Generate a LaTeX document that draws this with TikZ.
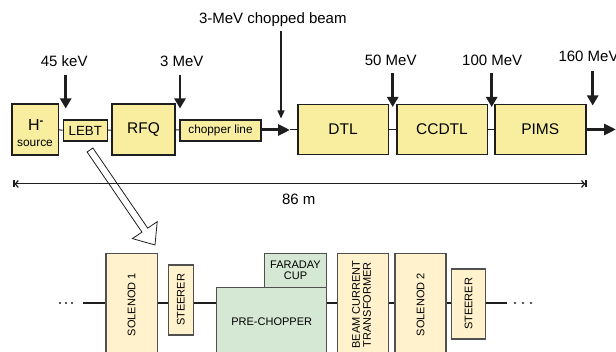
\documentclass[tikz,border=0pt]{standalone}
\usepackage{fontspec}
\setmainfont{Liberation Sans}
\usepackage{graphicx}
\usetikzlibrary{arrows.meta}
\definecolor{topfill}{RGB}{249,238,160}
\definecolor{solfill}{RGB}{255,242,204}
\definecolor{grnfill}{RGB}{213,232,212}
\definecolor{edge}{RGB}{30,30,30}
\definecolor{botedge}{RGB}{80,80,80}
\begin{document}
\begin{tikzpicture}[x=1pt,y=-1pt,
  topbox/.style={draw=edge, line width=1.6pt, fill=topfill, inner sep=0pt, anchor=center},
  bigfont/.style={font=\fontsize{15.5}{18}\selectfont},
  lblfont/.style={font=\fontsize{15}{18}\selectfont},
  botbox/.style={draw=botedge, line width=1.3pt, inner sep=0pt, anchor=center, font=\fontsize{11}{13}\selectfont},
  solbox/.style={botbox, fill=solfill},
  grnbox/.style={botbox, fill=grnfill},
  connector/.style={draw=edge, line width=1pt},
  energyarrow/.style={draw=edge, line width=2.6pt, -{Triangle[length=10pt,width=11pt]}},
  beamarrow/.style={draw=edge, line width=3pt, -{Triangle[length=12pt,width=11pt]}},
  thinarrow/.style={draw=edge, line width=1.2pt, -{Triangle[length=8pt,width=7pt]}},
  dimline/.style={draw=edge, line width=1pt, {Bar[width=7pt,line width=1.2pt]Straight Barb[length=3pt,width=7pt,line width=1.2pt]}-{Straight Barb[length=3pt,width=7pt,line width=1.2pt]Bar[width=7pt,line width=1.2pt]}},
  hollowarrow/.style={draw=edge, line width=0.8pt},
  beamline/.style={draw=edge, line width=2pt},
  dot/.style={fill=edge, draw=none, circle, minimum size=2.2pt, inner sep=0pt}
]
\useasboundingbox (0,0) rectangle (616,352);

% ---------- top row ----------
\node[topbox, minimum width=46.6pt, minimum height=51pt] (hsrc) at (35,129.5) {};
\node[anchor=base, inner sep=0pt, font=\fontsize{16}{16}\selectfont] (htext) at ([xshift=1pt]hsrc.center |- 0,130.7) {H\textsuperscript{\textbf{-}}};
\node[anchor=base, inner sep=0pt, font=\fontsize{11.9}{13}\selectfont] (srctext) at (hsrc.center |- 0,146.7) {source};
\node[topbox, line width=1.4pt, minimum width=44pt, minimum height=21pt, font=\fontsize{13.3}{15}\selectfont] (lebt) at (85.3,130.5) {LEBT};
\node[topbox, minimum width=62.7pt, minimum height=51pt, bigfont] (rfq) at (143.6,129.5) {RFQ};
\node[topbox, line width=1.4pt, minimum width=81pt, minimum height=21pt, font=\fontsize{11.8}{14}\selectfont] (chop) at (220.5,130.5) {chopper line};
\node[topbox, minimum width=90.6pt, minimum height=50pt, bigfont] (dtl) at (343,129.5) {DTL};
\node[topbox, minimum width=90.6pt, minimum height=50pt, bigfont] (ccdtl) at (442,129.5) {CCDTL};
\node[topbox, minimum width=91pt, minimum height=50pt, bigfont] (pims) at (540.2,129.5) {PIMS};

\draw[connector] (hsrc) -- (lebt);
\draw[connector] (lebt) -- (rfq);
\draw[connector] (rfq) -- (chop);
\draw[connector] (dtl) -- (ccdtl);
\draw[connector] (ccdtl) -- (pims);

\coordinate (choptip) at (290,130);
\draw[beamarrow] (chop.east |- choptip) -- (choptip);
\draw[connector] (choptip) -- (dtl.west |- choptip);
\coordinate (outtip) at (616,129.5);
\draw[beamarrow] (pims.east |- outtip) -- (outtip);

% energy labels and arrows
\node[lblfont, anchor=base] (l45) at (64.2,66.7) {45 keV};
\coordinate (s45) at (65.7,75); \coordinate (t45) at (65.7,108.5);
\draw[energyarrow] (s45) -- (t45);
\node[lblfont, anchor=base] (l3) at (181.7,66.7) {3 MeV};
\coordinate (s3) at (180,75); \coordinate (t3) at (180,108.5);
\draw[energyarrow] (s3) -- (t3);
\node[lblfont, anchor=base] (lchop) at (272.8,23.3) {3-MeV chopped beam};
\coordinate (schop) at (281,31.5); \coordinate (tchop) at (281,118.5);
\draw[thinarrow] (schop) -- (tchop);
\node[lblfont, anchor=base] (l50) at (390.7,65.7) {50 MeV};
\coordinate (s50) at (392.7,73); \coordinate (t50) at (392.7,107);
\draw[energyarrow] (s50) -- (t50);
\node[lblfont, anchor=base] (l100) at (492.2,65.7) {100 MeV};
\coordinate (s100) at (491.7,73); \coordinate (t100) at (491.7,107);
\draw[energyarrow] (s100) -- (t100);
\node[lblfont, anchor=base west, inner sep=0pt] (l160) at (558.3,61.7) {160 MeV};
\coordinate (s160) at (592.7,71.5); \coordinate (t160) at (592.7,105.5);
\draw[energyarrow] (s160) -- (t160);

% dimension
\coordinate (dimL) at (13.3,184); \coordinate (dimR) at (586.5,184);
\draw[dimline] (dimL) -- (dimR);
\node[lblfont, anchor=base] (dimlbl) at (298.8,204.3) {86 m};

% hollow zoom arrow
\draw[hollowarrow] (92.89,148.02) -- (147.73,228.16) -- (157.22,221.67) -- (155,245)
  -- (132.46,238.61) -- (141.95,232.12) -- (87.11,151.98) -- cycle;

% ---------- bottom row ----------
\coordinate (bl) at (83,303); \coordinate (br) at (507,303);
\draw[beamline] (bl) -- (br);
\node[dot] (d1) at (60,303) {}; \node[dot] (d2) at (66,303) {}; \node[dot] (d3) at (72,303) {};
\node[dot] (d4) at (515,303) {}; \node[dot] (d5) at (523,303) {}; \node[dot] (d6) at (531,303) {};

\node[solbox, minimum width=51.3pt, minimum height=102.7pt] (sol1) at (131.65,304.65) {\rotatebox{90}{SOLENOD 1}};
\node[solbox, minimum width=25pt, minimum height=70pt] (st1) at (180.8,300) {\rotatebox{90}{STEERER}};
\node[grnbox, minimum width=110pt, minimum height=68.3pt] (prech) at (271.7,321.85) {PRE-CHOPPER};
\node[grnbox, minimum width=62.4pt, minimum height=34.4pt, align=center] (fcup) at (295.5,270.5) {FARADAY\\[-1.5pt]CUP};
\node[solbox, minimum width=51pt, minimum height=102.7pt] (bct) at (362.8,304.65) {\rotatebox{90}{\begin{tabular}{@{}c@{}}BEAM CURRENT\\[-2pt]TRANSFORMER\end{tabular}}};
\node[solbox, minimum width=51pt, minimum height=102.7pt] (sol2) at (420.5,304.65) {\rotatebox{90}{SOLENOD 2}};
\node[solbox, minimum width=34pt, minimum height=70pt] (st2) at (468.7,304) {\rotatebox{90}{STEERER}};
\end{tikzpicture}
\end{document}
